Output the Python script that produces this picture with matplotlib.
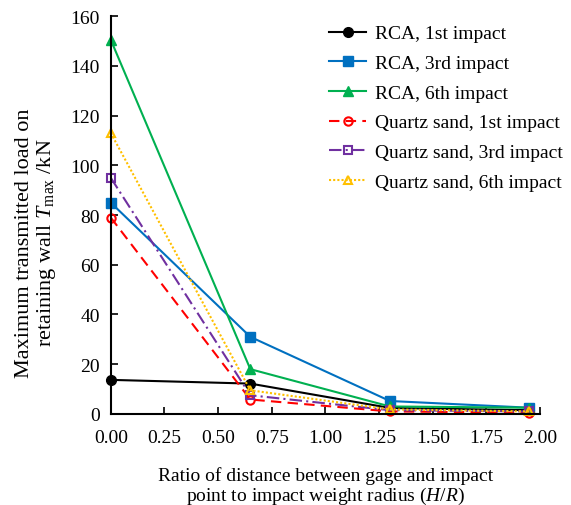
import numpy as np
import matplotlib
matplotlib.use("Agg")
import matplotlib.pyplot as plt

plt.rcParams.update({
    "font.family": ["Liberation Serif", "DejaVu Serif"],
    "mathtext.fontset": "custom",
    "mathtext.rm": "Liberation Serif",
    "mathtext.it": "Liberation Serif:italic",
    "font.size": 14,
    "xtick.direction": "in",
    "ytick.direction": "in",
})

# 数据
hr = [0.0, 0.65, 1.30, 1.95]
rca_1st = [13.7, 12.2, 2.4, 1.5]
rca_3rd = [85.0, 31.0, 5.2, 2.5]
rca_6th = [150.5, 18.0, 3.0, 2.5]
sand_1st = [79.0, 5.8, 1.0, 0.5]
sand_3rd = [95.0, 7.5, 1.5, 1.0]
sand_6th = [113.0, 9.5, 1.8, 1.0]

labels = ["RCA, 1st impact", "RCA, 3rd impact", "RCA, 6th impact",
          "Quartz sand, 1st impact", "Quartz sand, 3rd impact", "Quartz sand, 6th impact"]

fig = plt.figure(figsize=(5.71, 5.06), dpi=100)
ax = fig.add_axes([0.194, 0.18, 0.752, 0.786])

ax.plot(hr, rca_1st, color="black", marker="o", ms=7, lw=1.5, label=labels[0])
ax.plot(hr, rca_3rd, color="#0070C0", marker="s", ms=7, lw=1.5, label=labels[1])
ax.plot(hr, rca_6th, color="#00B050", marker="^", ms=7, lw=1.5, label=labels[2])
ax.plot(hr, sand_1st, color="#FF0000", marker="o", ms=6, mfc="none", mew=1.5,
        lw=1.5, ls=(0, (5, 3)), label=labels[3])
ax.plot(hr, sand_3rd, color="#7030A0", marker="s", ms=6, mfc="none", mew=1.5,
        lw=1.5, ls=(0, (6, 2, 1, 2)), label=labels[4])
ax.plot(hr, sand_6th, color="#FFC000", marker="^", ms=6, mfc="none", mew=1.5,
        lw=1.5, ls=(0, (1, 1)), label=labels[5])

ax.set_xlim(0, 2.0)
ax.set_ylim(0, 160)
ax.set_xticks(np.arange(0, 2.01, 0.25))
ax.set_xticklabels([f"{v:.2f}" for v in np.arange(0, 2.01, 0.25)])
ax.set_yticks(range(0, 161, 20))
ax.spines["top"].set_visible(False)
ax.spines["right"].set_visible(False)
for s in ("left", "bottom"):
    ax.spines[s].set_linewidth(1.5)
ax.tick_params(width=1.2, length=5, labelsize=14)
ax.tick_params(axis="x", pad=11)
ax.tick_params(axis="y", pad=8)
for ln in ax.lines:
    ln.set_clip_on(False)

ax.set_xlabel("Ratio of distance between gage and impact\npoint to impact weight radius ($\\it{H}$/$\\it{R}$)",
              fontsize=14, linespacing=1.05)
ax.xaxis.set_label_coords(0.5, -0.1325)
ax.xaxis.label.set_va("top")
ax.set_ylabel("Maximum transmitted load on\nretaining wall $\\it{T}_{\\rm{max}}$ /kN",
              fontsize=16, linespacing=1.1)
ax.yaxis.set_label_coords(-0.122, 0.432)

ax.legend(loc="upper left", bbox_to_anchor=(0.50, 0.988), frameon=False,
          fontsize=14, handlelength=1.9, handletextpad=0.45, labelspacing=0.62,
          borderaxespad=0.0, borderpad=0.2)

fig.savefig("out.png", dpi=100)
